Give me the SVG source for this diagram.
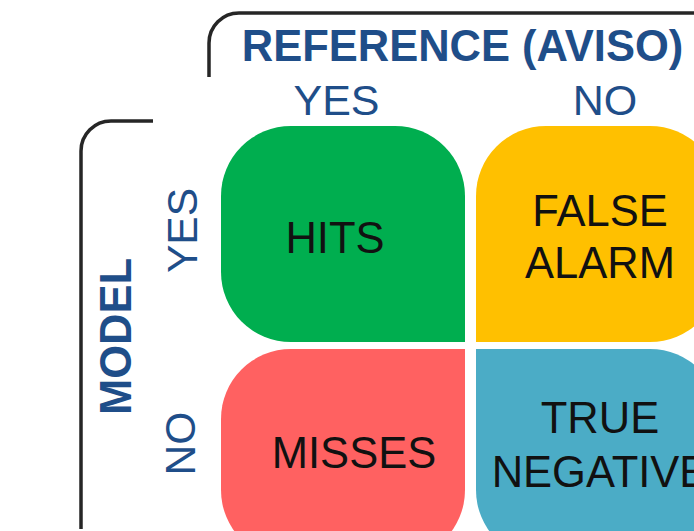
<svg xmlns="http://www.w3.org/2000/svg" width="694" height="531" viewBox="0 0 694 531">
<style>
.hdr{font-family:"Liberation Sans",Arial,sans-serif;fill:#1F4E89;}
.b{font-weight:bold;}
.cell{font-family:"Liberation Sans",Arial,sans-serif;font-size:43.5px;fill:#111;text-anchor:middle;}
.br{fill:none;stroke:#262626;stroke-width:3.5;}
</style>
<rect width="694" height="531" fill="#fff"/>
<g id="brackets">
<path class="br" d="M209,77 L209,43 A30 30 0 0 1 239,13 L694,13"/>
<path class="br" d="M81,529 L81,151 A30 30 0 0 1 111,121 L153,121"/>
</g>
<g id="labels">
<text class="hdr b" x="462.5" y="61" font-size="43.5" text-anchor="middle">REFERENCE (AVISO)</text>
<text class="hdr" x="336.5" y="115" font-size="43" text-anchor="middle">YES</text>
<text class="hdr" x="605" y="115" font-size="43" text-anchor="middle">NO</text>
<text class="hdr b" transform="translate(131,336.5) rotate(-90)" font-size="43.5" text-anchor="middle">MODEL</text>
<text class="hdr" transform="translate(197,230.5) rotate(-90)" font-size="42.5" text-anchor="middle">YES</text>
<text class="hdr" transform="translate(195,443.5) rotate(-90)" font-size="42.5" text-anchor="middle">NO</text>
</g>
<g id="hits">
<path fill="#00AE4F" d="M221,196 A70 70 0 0 1 291,126 L395,126 A70 70 0 0 1 465,196 L465,342 L291,342 A70 70 0 0 1 221,272 Z"/>
<text class="cell" x="335" y="253">HITS</text>
</g>
<g id="false-alarm">
<path fill="#FFC000" d="M476,196 A70 70 0 0 1 546,126 L650,126 A70 70 0 0 1 720,196 L720,272 A70 70 0 0 1 650,342 L476,342 Z"/>
<text class="cell" x="600" y="226">FALSE</text>
<text class="cell" x="600" y="278">ALARM</text>
</g>
<g id="misses">
<path fill="#FF6161" d="M221,419 A70 70 0 0 1 291,349 L465,349 L465,490 A70 70 0 0 1 395,560 L291,560 A70 70 0 0 1 221,490 Z"/>
<text class="cell" x="354" y="468">MISSES</text>
</g>
<g id="true-negative">
<path fill="#4BACC6" d="M476,349 L650,349 A70 70 0 0 1 720,419 L720,490 A70 70 0 0 1 650,560 L546,560 A70 70 0 0 1 476,490 Z"/>
<text class="cell" x="600" y="433">TRUE</text>
<text class="cell" x="600" y="487">NEGATIVE</text>
</g>
</svg>
